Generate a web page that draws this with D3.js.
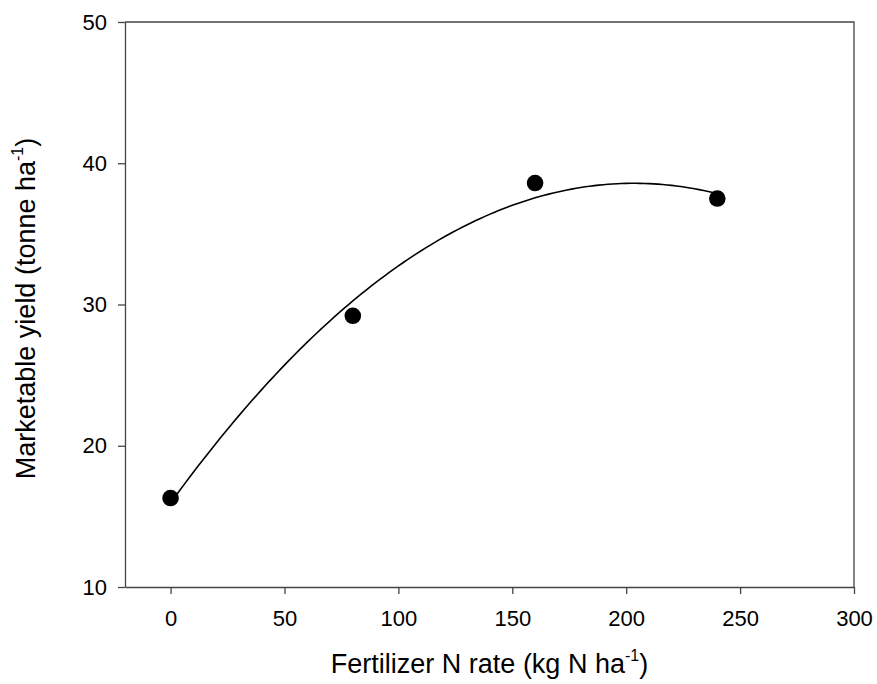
<!DOCTYPE html>
<html>
<head>
<meta charset="utf-8">
<script src="https://cdn.jsdelivr.net/npm/d3@7"></script>
<style>
  body { margin: 0; background: #fff; }
  svg { display: block; font-family: "Liberation Sans", Arial, sans-serif; }
</style>
</head>
<body>
<svg id="chart" width="877" height="684"></svg>
<script>
// Données
const nRate = [0, 80, 160, 240];
const yieldVals = [16.3, 29.2, 38.6, 37.5];
const xTicks = [0, 50, 100, 150, 200, 250, 300];
const yTicks = [10, 20, 30, 40, 50];

const width = 877;
const height = 684;
const margin = { top: 22, right: 23, bottom: 97, left: 125 };

const svg = d3.select("#chart");

const x = d3.scaleLinear()
    .domain([-20, 300])
    .range([margin.left, width - margin.right]);

const y = d3.scaleLinear()
    .domain([10, 50])
    .range([height - margin.bottom, margin.top]);

// Cadre du graphique (haut et droite)
svg.append("path")
    .attr("d", `M${x(-20)},${y(50)}H${x(300)}V${y(10)}`)
    .attr("fill", "none")
    .attr("stroke", "#444")
    .attr("stroke-width", 1.3);

// Axes
const xAxis = svg.append("g")
    .attr("transform", `translate(0,${y(10)})`)
    .call(d3.axisBottom(x).tickValues(xTicks).tickSize(7).tickPadding(16).tickSizeOuter(0));

const yAxis = svg.append("g")
    .attr("transform", `translate(${x(-20)},0)`)
    .call(d3.axisLeft(y).tickValues(yTicks).tickSize(7).tickPadding(11).tickSizeOuter(0));

[xAxis, yAxis].forEach(a => {
    a.select(".domain").attr("stroke", "#444").attr("stroke-width", 1.3);
    a.selectAll(".tick line").attr("stroke", "#444").attr("stroke-width", 1.3);
    a.selectAll(".tick text")
        .attr("font-size", "22px")
        .attr("fill", "#000")
        .attr("font-family", "Liberation Sans, Arial, sans-serif");
});

// Ajustement quadratique (moindres carrés) à partir des points
function quadFit(xs, ys) {
    const n = xs.length;
    let s = [0, 0, 0, 0, 0], t = [0, 0, 0];
    for (let i = 0; i < n; i++) {
        for (let k = 0; k < 5; k++) s[k] += Math.pow(xs[i], k);
        for (let k = 0; k < 3; k++) t[k] += ys[i] * Math.pow(xs[i], k);
    }
    const A = [[s[0], s[1], s[2]], [s[1], s[2], s[3]], [s[2], s[3], s[4]]];
    const det = m => m[0][0] * (m[1][1] * m[2][2] - m[1][2] * m[2][1])
        - m[0][1] * (m[1][0] * m[2][2] - m[1][2] * m[2][0])
        + m[0][2] * (m[1][0] * m[2][1] - m[1][1] * m[2][0]);
    const D = det(A);
    const coef = [0, 1, 2].map(c => {
        const M = A.map((row, r) => row.map((v, j) => j === c ? t[r] : v));
        return det(M) / D;
    });
    return v => coef[0] + coef[1] * v + coef[2] * v * v;
}

const fit = quadFit(nRate, yieldVals);
const curveX = d3.range(0, 240.5, 2);

svg.append("path")
    .datum(curveX)
    .attr("fill", "none")
    .attr("stroke", "#000")
    .attr("stroke-width", 1.6)
    .attr("d", d3.line().x(d => x(d)).y(d => y(fit(d))));

// Points
svg.selectAll("circle.pt")
    .data(nRate)
    .join("circle")
    .attr("class", "pt")
    .attr("cx", d => x(d))
    .attr("cy", (d, i) => y(yieldVals[i]))
    .attr("r", 8.3)
    .attr("fill", "#000");

// Titres des axes
const xTitle = svg.append("text")
    .attr("x", (x(-20) + x(300)) / 2)
    .attr("y", 673)
    .attr("text-anchor", "middle")
    .attr("font-size", "27px")
    .attr("fill", "#000");
xTitle.append("tspan").text("Fertilizer N rate (kg N ha");
xTitle.append("tspan").attr("font-size", "16px").attr("dy", -12).text("-1");
xTitle.append("tspan").attr("dy", 12).text(")");

const yTitle = svg.append("text")
    .attr("transform", `translate(35,${(y(10) + y(50)) / 2 + 4}) rotate(-90)`)
    .attr("text-anchor", "middle")
    .attr("font-size", "27px")
    .attr("fill", "#000");
yTitle.append("tspan").text("Marketable yield (tonne ha");
yTitle.append("tspan").attr("font-size", "16px").attr("dy", -12).text("-1");
yTitle.append("tspan").attr("dy", 12).text(")");
</script>
</body>
</html>
